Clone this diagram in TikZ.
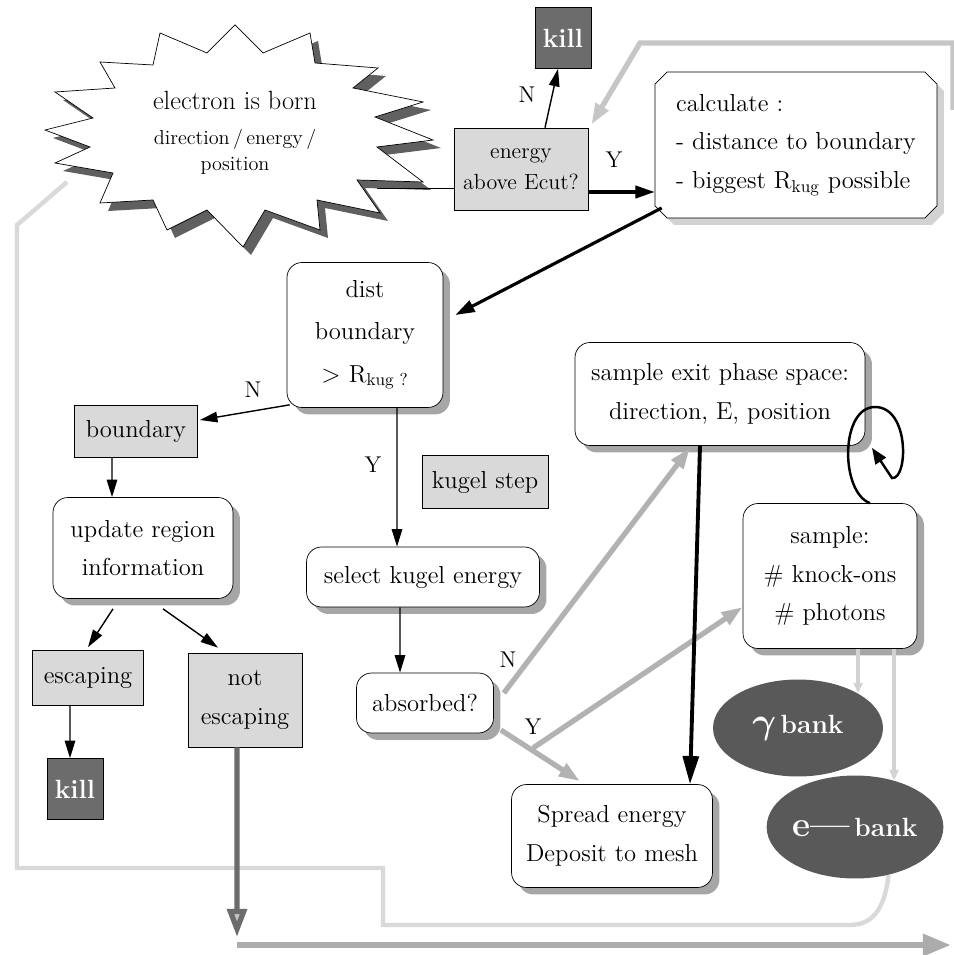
\documentclass[tikz,border=0pt]{standalone}
\usepackage{fontspec}
\usetikzlibrary{arrows.meta,shapes.geometric,shapes.misc,shadows,backgrounds}

\tikzset{
  base/.style={draw, inner sep=0pt, align=center, font=\fontsize{14}{22}\selectfont},
  greybox/.style={base, fill=gray!30},
  killbox/.style={base, fill=gray!85!black, text=white,
    font=\fontsize{15}{16}\selectfont\bfseries, minimum width=1.12cm, minimum height=1.22cm},
  roundbox/.style={base, fill=white, rounded corners=0.3cm,
    drop shadow={shadow xshift=0.14cm, shadow yshift=-0.14cm, fill=gray!70, opacity=1}},
  bank/.style={ellipse, fill=gray!70!black, text=white, inner sep=0pt,
    font=\fontsize{15}{16}\selectfont\bfseries},
  lbl/.style={font=\fontsize{13}{14}\selectfont},
  arr/.style={-{Triangle[length=10pt,width=6pt]}, line width=0.8pt},
  fatarr/.style={-{Triangle[length=11pt,width=7pt]}, line width=1.8pt},
  greyarr/.style={-{Triangle[length=12pt,width=8pt]}, line width=3pt, gray!60},
  loopline/.style={line width=2.5pt, gray!30},
}

\begin{document}
\begin{tikzpicture}[x=0.02cm, y=-0.02cm]
\useasboundingbox (0,0) rectangle (953,955);

% the electron is born
\draw[fill=white, drop shadow={shadow xshift=0.16cm, shadow yshift=-0.16cm, fill=gray!75!black, opacity=1}]
  (235,25) -- (207,53) -- (160,33) -- (153,65) -- (100,62) -- (115,88) -- (55,92) -- (93,118)
  -- (45,130) -- (90,147) -- (55,163) -- (113,173) -- (100,203) -- (153,200) -- (167,230) -- (207,210)
  -- (243,247) -- (265,210) -- (320,230) -- (317,200) -- (380,213) -- (357,180) -- (423,182) -- (377,147)
  -- (433,140) -- (375,117) -- (423,102) -- (353,88) -- (378,68) -- (315,63) -- (310,33) -- (263,53) -- cycle;
\node[font=\fontsize{15}{16}\selectfont] (born) at (235,100) {electron is born};
\node[font=\fontsize{11.5}{15}\selectfont, align=center] (bornsub) at (235,152) {direction\,/\,energy\,/\\position};
\coordinate (starR) at (377,188);
\coordinate (starL) at (67,182);

% boxes
\node[greybox, minimum width=2.68cm, minimum height=1.64cm, font=\fontsize{12.5}{18}\selectfont] (ecut) at (521,169) {energy\\above Ecut?};
\node[killbox] (killtop) at (563,38) {kill};
\node[base, chamfered rectangle, chamfered rectangle xsep=0.12cm, chamfered rectangle ysep=0.12cm,
  fill=white, align=left, minimum width=5.64cm, minimum height=2.92cm,
  drop shadow={shadow xshift=0.14cm, shadow yshift=-0.14cm, fill=gray!35, opacity=1}]
  (calc) at (796,145) {calculate :\\- distance to boundary\\- biggest R\textsubscript{kug} possible};
\node[roundbox, minimum width=3.12cm, minimum height=2.9cm, font=\fontsize{14}{24}\selectfont] (dist) at (365,335) {dist\\boundary\\$>$ R\textsubscript{kug ?}};
\node[greybox, minimum width=2.46cm, minimum height=1.04cm] (bnd) at (136,431) {boundary};
\node[roundbox, minimum width=3.6cm, minimum height=2.02cm] (upd) at (143,548) {update region\\information};
\node[greybox, minimum width=2.22cm, minimum height=1.1cm] (esc) at (88,678) {escaping};
\node[greybox, minimum width=2.28cm, minimum height=1.88cm] (notesc) at (245,700) {not\\escaping};
\node[killbox] (killbot) at (75,789) {kill};
\node[greybox, minimum width=2.52cm, minimum height=1.06cm] (kstep) at (485,482) {kugel step};
\node[roundbox, minimum width=4.66cm, minimum height=1.2cm] (sel) at (423,577) {select kugel energy};
\node[roundbox, minimum width=2.74cm, minimum height=1.2cm] (abs) at (425,703) {absorbed?};
\node[roundbox, minimum width=5.8cm, minimum height=2.06cm] (exit) at (720,394) {sample exit phase space:\\direction, E, position};
\node[roundbox, minimum width=3.48cm, minimum height=2.9cm] (samp) at (830,576) {sample:\\\# knock-ons\\\# photons};
\node[roundbox, minimum width=4.02cm, minimum height=2.06cm] (spread) at (612,836) {Spread energy\\Deposit to mesh};
\node[bank, minimum width=3.4cm, minimum height=1.94cm] (gbank) at (798,728) {{\fontsize{22}{22}\selectfont\boldmath$\gamma$}\,bank};
\node[bank, minimum width=3.28cm, minimum height=2.06cm] (ebank) at (855,827) {{\fontsize{20}{20}\selectfont e---}\,bank};
\coordinate (corner) at (237,945);
\coordinate (exitR) at (951,945);
\coordinate (ysplit) at (533,748);

% connectors
\draw (starR) -- (starR -| ecut.west);
\draw[arr] ([xshift=0.48cm]ecut.north) -- ([xshift=-0.1cm]killtop.south);
\node[lbl] (n1) at (527,95) {N};
\draw[fatarr] ([yshift=-0.46cm]ecut.east) -- ([yshift=-0.46cm]ecut.east -| calc.west);
\node[lbl] (y1) at (614,160) {Y};
\draw[fatarr] ([xshift=0.14cm,yshift=-1.26cm]calc.west) -- ([xshift=0.24cm,yshift=0.4cm]dist.east);
\draw[arr] ([xshift=0.06cm,yshift=0.06cm]dist.south west) -- ([xshift=0.04cm,yshift=0.22cm]bnd.east);
\node[lbl] (n2) at (253,390) {N};
\draw[arr] ([xshift=-0.48cm]bnd.south) -- ([xshift=-0.62cm]upd.north);
\draw[arr] ([xshift=-0.6cm,yshift=-0.2cm]upd.south) -- ([yshift=0.06cm]esc.north);
\draw[arr] ([xshift=0.4cm,yshift=-0.2cm]upd.south) -- ([xshift=-0.54cm,yshift=0.1cm]notesc.north);
\draw[arr] ([xshift=-0.36cm]esc.south) -- ([xshift=-0.1cm]killbot.north);
\draw[arr] ([xshift=0.64cm]dist.south) -- ([xshift=-0.52cm]sel.north);
\node[lbl] (y2) at (373,465) {Y};
\draw[arr] ([xshift=-0.46cm]sel.south) -- ([xshift=-0.5cm]abs.north);
\draw[greyarr] ([xshift=0.2cm,yshift=0.2cm]abs.east) -- ([xshift=-0.6cm,yshift=-0.04cm]exit.south);
\node[lbl] (n3) at (508,660) {N};
\draw[greyarr] ([xshift=0.14cm,yshift=-0.54cm]abs.east) -- ([xshift=-0.64cm,yshift=0.06cm]spread.north);
\node[lbl] (y3) at (533,727) {Y};
\draw[greyarr] (ysplit) -- ([yshift=-0.62cm]samp.west);
\draw[line width=2.2pt, -{Triangle[length=16pt,width=9pt]}] ([xshift=-0.4cm]exit.south) -- ([xshift=1.56cm]spread.north);
\draw[line width=1.4pt, -{Triangle[length=9pt,width=7pt]}] ([xshift=0.8cm]samp.north)
  .. controls (840,492) and (840,407) .. (875,407) .. controls (910,407) and (908,480) .. (892,478) -- (872,448);
\draw[gray!35, line width=2pt, -{Triangle[length=6pt,width=5pt]}] (samp.south -| gbank.30) -- (gbank.30);
\draw[gray!35, line width=2pt, -{Triangle[length=6pt,width=5pt]}] (samp.south -| ebank.50) -- (ebank.50);
\draw[line width=3pt, gray!85!black, -{Triangle[length=16pt,width=11pt,fill=gray!45]}] ([xshift=-0.16cm]notesc.south) -- ([yshift=0.16cm]corner);
\draw[line width=3.5pt, gray!65, -{Triangle[length=16pt,width=12pt]}] (corner) -- (exitR);

\begin{scope}[on background layer]
\draw[loopline] (ebank.-55) .. controls (885,905) and (875,925) .. (850,925) -- (383,925) -- (383,868) -- (17,868) -- (17,225) -- (starL);
\draw[gray!45, line width=3pt, -{Triangle[length=12pt,width=8pt]}] (953,110) -- (953,43) -- (640,43) -- ([xshift=0.06cm,yshift=0.06cm]ecut.north east);
\end{scope}
\end{tikzpicture}
\end{document}
